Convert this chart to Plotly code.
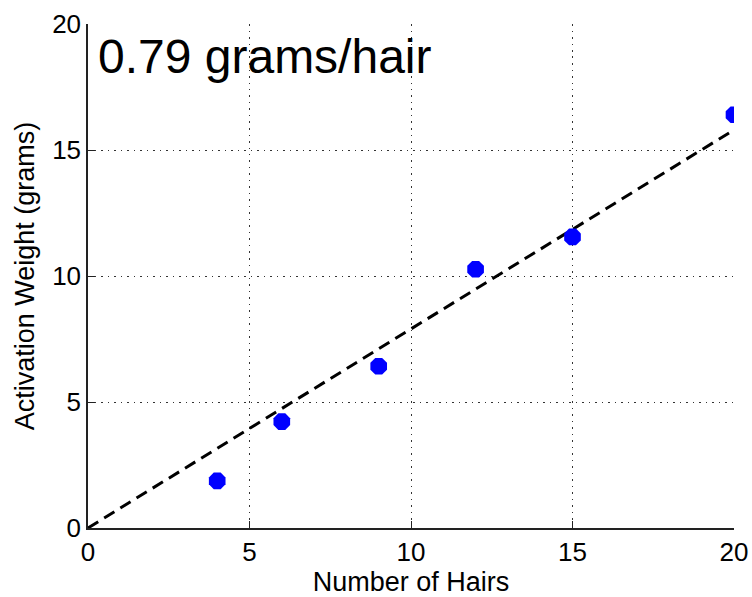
import plotly.graph_objects as go

hairs = [4, 6, 9, 12, 15, 20]
weight = [1.87, 4.22, 6.42, 10.27, 11.55, 16.4]
slope = 0.79
fit_x = [0, 20]
fit_y = [slope * v for v in fit_x]
ticks = [0, 5, 10, 15, 20]

FONT = "Liberation Sans, Arial, sans-serif"

fig = go.Figure()
fig.add_trace(go.Scatter(x=fit_x, y=fit_y, mode="lines",
                         line=dict(color="black", width=3, dash="12px,7px"),
                         showlegend=False))
fig.add_trace(go.Scatter(x=hairs, y=weight, mode="markers",
                         marker=dict(symbol="octagon", size=18, color="#0000FF",
                                     line=dict(width=0)),
                         showlegend=False))

axis_common = dict(range=[0, 20], tickvals=ticks, ticks="inside", ticklen=7,
                   tickcolor="#222", showline=True, linecolor="#222", linewidth=1.5,
                   showgrid=True, gridcolor="#333", griddash="1.5px,5px", gridwidth=1.3,
                   zeroline=False, tickfont=dict(family=FONT, size=26, color="black"),
                   mirror=False, automargin=False)

fig.update_xaxes(**axis_common,
                 title=dict(text="Number of Hairs", font=dict(family=FONT, size=27, color="black"),
                            standoff=6))
fig.update_yaxes(**axis_common,
                 title=dict(text="Activation Weight (grams)", font=dict(family=FONT, size=27, color="black"),
                            standoff=10))

fig.add_annotation(text="0.79 grams/hair", xref="paper", yref="paper", x=0, y=1,
                   xanchor="left", yanchor="top", xshift=8, yshift=-4, showarrow=False,
                   font=dict(family=FONT, size=48, color="black"))

fig.update_layout(width=752, height=597, plot_bgcolor="white", paper_bgcolor="white",
                  margin=dict(l=88, r=18, t=24, b=69))

# remove the browser's default 8px body margin so the figure fills the window exactly
fig.write_html("out.html", config={"displayModeBar": False},
               post_script="document.body.style.margin='0';document.documentElement.style.overflow='hidden';")
